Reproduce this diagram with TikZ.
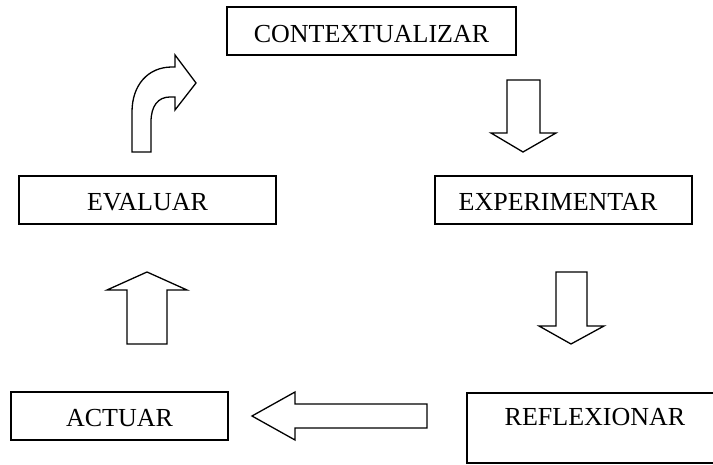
\documentclass[tikz,border=0pt]{standalone}
\usepackage{fontspec}
\setmainfont{Liberation Serif}
\begin{document}
\begin{tikzpicture}[x=1pt,y=-1pt,
  box/.style={draw,line width=1.3pt,inner sep=0pt},
  lbl/.style={inner sep=0pt,font=\fontsize{26}{30}\selectfont},
  blockarrow/.style={draw,line width=1.3pt,line join=miter,fill=white}]
\useasboundingbox (0,0) rectangle (713,465);
\clip (0,0) rectangle (713,465);
% boxes
\node[box,minimum width=289pt,minimum height=48pt] (ctx) at (371.5,31) {};
\node[lbl] (ctxt) at ([yshift=-3pt]ctx.center) {CONTEXTUALIZAR};
\node[box,minimum width=257pt,minimum height=48pt] (exp) at (563.5,200) {};
\node[lbl] (expt) at ([xshift=-5.5pt,yshift=-2pt]exp.center) {EXPERIMENTAR};
\node[box,minimum width=257pt,minimum height=48pt] (eva) at (147.5,200) {};
\node[lbl] (evat) at ([yshift=-2.5pt]eva.center) {EVALUAR};
\node[box,minimum width=217pt,minimum height=48pt] (act) at (119.5,416) {};
\node[lbl] (actt) at ([yshift=-2.5pt]act.center) {ACTUAR};
\node[box,minimum width=256pt,minimum height=70pt] (ref) at (595,428) {};
\node[lbl] (reft) at (595,417) {REFLEXIONAR};
% block arrows
\draw[blockarrow] (507,80) -- (540,80) -- (540,133) -- (556,133) -- (523,152) -- (491,133) -- (507,133) -- cycle;
\draw[blockarrow] (556,272) -- (587,272) -- (587,326) -- (604,326) -- (571,344) -- (539,326) -- (556,326) -- cycle;
\draw[blockarrow] (427,404) -- (295,404) -- (295,392) -- (252,416) -- (295,440) -- (295,428) -- (427,428) -- cycle;
\draw[blockarrow] (127,344) -- (127,290) -- (107,290) -- (147,272) -- (187,290) -- (167,290) -- (167,344) -- cycle;
\draw[blockarrow] (132,152) -- (132,112) .. controls (132,85) and (148,67) .. (172,67) -- (175,67) -- (175,55) -- (196,83) -- (175,110) -- (175,97) -- (170,97) .. controls (158,97) and (151,106) .. (151,122) -- (151,152) -- cycle;
\end{tikzpicture}
\end{document}
